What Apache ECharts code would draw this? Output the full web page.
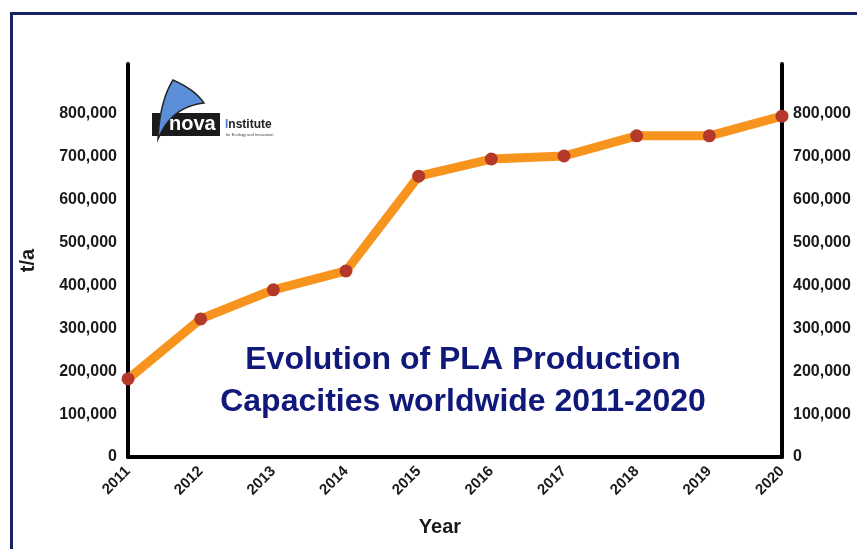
<!DOCTYPE html>
<html>
<head>
<meta charset="utf-8">
<title>PLA production capacities</title>
<script src="https://cdn.jsdelivr.net/npm/echarts@6/dist/echarts.min.js"></script>
<style>
  html, body { margin: 0; padding: 0; background: #fff; }
  #main { width: 857px; height: 549px; }
</style>
</head>
<body>
<div id="main"></div>
<script>
// years on the x axis
var years = ['2011', '2012', '2013', '2014', '2015', '2016', '2017', '2018', '2019', '2020'];
// PLA production capacity, t/a
var capacity = [182000, 322000, 390000, 434000, 655000, 695000, 702000, 749000, 749000, 795000];
// y axis tick labels stop at 800,000
var yTickMax = 800000;
var yStep = 100000;
var yTop = 916600;

var chart = echarts.init(document.getElementById('main'));

var labelFont = {
  fontFamily: 'Liberation Sans, Arial, sans-serif',
  fontWeight: 'bold',
  fontSize: 15,
  color: '#1a1a1a'
};

function yLabel(v) {
  if (v > yTickMax) return '';
  return v.toLocaleString('en-US');
}

// sample a cubic bezier, used for the logo's sail outline
function bez(p0, p1, p2, p3, n) {
  var pts = [];
  for (var i = 0; i <= n; i++) {
    var t = i / n, u = 1 - t;
    pts.push([
      u * u * u * p0[0] + 3 * u * u * t * p1[0] + 3 * u * t * t * p2[0] + t * t * t * p3[0],
      u * u * u * p0[1] + 3 * u * u * t * p1[1] + 3 * u * t * t * p2[1] + t * t * t * p3[1]
    ]);
  }
  return pts;
}
var sail = []
  .concat(bez([158, 139], [159, 115], [164, 94], [173, 80], 12))
  .concat(bez([173, 80], [187, 86], [198, 94], [204, 103], 8))
  .concat(bez([204, 103], [190, 105], [170, 110], [158, 139], 12));

var yAxisBase = {
  type: 'value',
  min: 0,
  max: yTop,
  interval: yStep,
  axisLine: { show: true, lineStyle: { color: '#000', width: 4 } },
  axisTick: { show: false },
  splitLine: { show: false },
  axisLabel: Object.assign({ formatter: yLabel, margin: 11 }, labelFont, { fontSize: 16 })
};

var option = {
  backgroundColor: '#fff',
  animation: false,
  title: {
    text: 'Evolution of PLA Production\nCapacities worldwide 2011-2020',
    left: 458,
    top: 334,
    textAlign: 'center',
    textStyle: {
      fontFamily: 'Liberation Sans, Arial, sans-serif',
      fontWeight: 'bold',
      fontSize: 32,
      lineHeight: 42,
      color: '#10187a'
    }
  },
  grid: { left: 128, right: 75, top: 64, bottom: 92, containLabel: false },
  xAxis: {
    type: 'category',
    data: years,
    boundaryGap: false,
    name: 'Year',
    nameLocation: 'middle',
    nameGap: 60,
    nameTextStyle: {
      fontFamily: 'Liberation Sans, Arial, sans-serif',
      fontWeight: 'bold',
      fontSize: 20,
      color: '#1a1a1a',
      padding: [0, 30, 0, 0]
    },
    axisLine: { lineStyle: { color: '#000', width: 4 } },
    axisTick: { show: false },
    axisLabel: Object.assign({ rotate: 45, margin: 12, interval: 0 }, labelFont)
  },
  yAxis: [
    Object.assign({}, yAxisBase, {
      position: 'left',
      name: 't/a',
      nameLocation: 'middle',
      nameRotate: 90,
      nameGap: 90,
      nameTextStyle: {
        fontFamily: 'Liberation Sans, Arial, sans-serif',
        fontWeight: 'bold',
        fontSize: 20,
        color: '#1a1a1a'
      }
    }),
    Object.assign({}, yAxisBase, { position: 'right' })
  ],
  series: [
    {
      type: 'line',
      data: capacity,
      yAxisIndex: 0,
      clip: false,
      symbol: 'circle',
      symbolSize: 13,
      itemStyle: { color: '#b5392b' },
      lineStyle: { color: '#f7941d', width: 9 },
      z: 5
    }
  ],
  graphic: [
    // navy frame around the picture
    {
      type: 'rect',
      shape: { x: 11.5, y: 13.5, width: 900, height: 600 },
      style: { fill: 'none', stroke: '#162466', lineWidth: 3 },
      silent: true
    },
    // nova-Institute logo
    {
      type: 'group',
      silent: true,
      children: [
        {
          type: 'rect',
          shape: { x: 152, y: 113, width: 68, height: 23 },
          style: { fill: '#1b1b1b' }
        },
        {
          type: 'polygon',
          shape: { points: sail },
          style: { fill: '#5b8ed8', stroke: '#222', lineWidth: 1.5 }
        },
        {
          type: 'text',
          x: 169,
          y: 114,
          style: {
            text: 'nova',
            fill: '#fff',
            font: 'bold 20px Liberation Sans, Arial, sans-serif'
          }
        },
        {
          type: 'text',
          x: 225,
          y: 119,
          style: {
            text: '{b|I}{d|nstitute}',
            rich: {
              b: { fill: '#4a7fd0', font: 'bold 12px Liberation Sans, Arial, sans-serif' },
              d: { fill: '#222', font: 'bold 12px Liberation Sans, Arial, sans-serif' }
            }
          }
        },
        {
          type: 'text',
          x: 226,
          y: 133,
          style: {
            text: 'for Ecology and Innovation',
            fill: '#444',
            font: '4px Liberation Sans, Arial, sans-serif'
          }
        }
      ]
    }
  ]
};

chart.setOption(option);
</script>
</body>
</html>
